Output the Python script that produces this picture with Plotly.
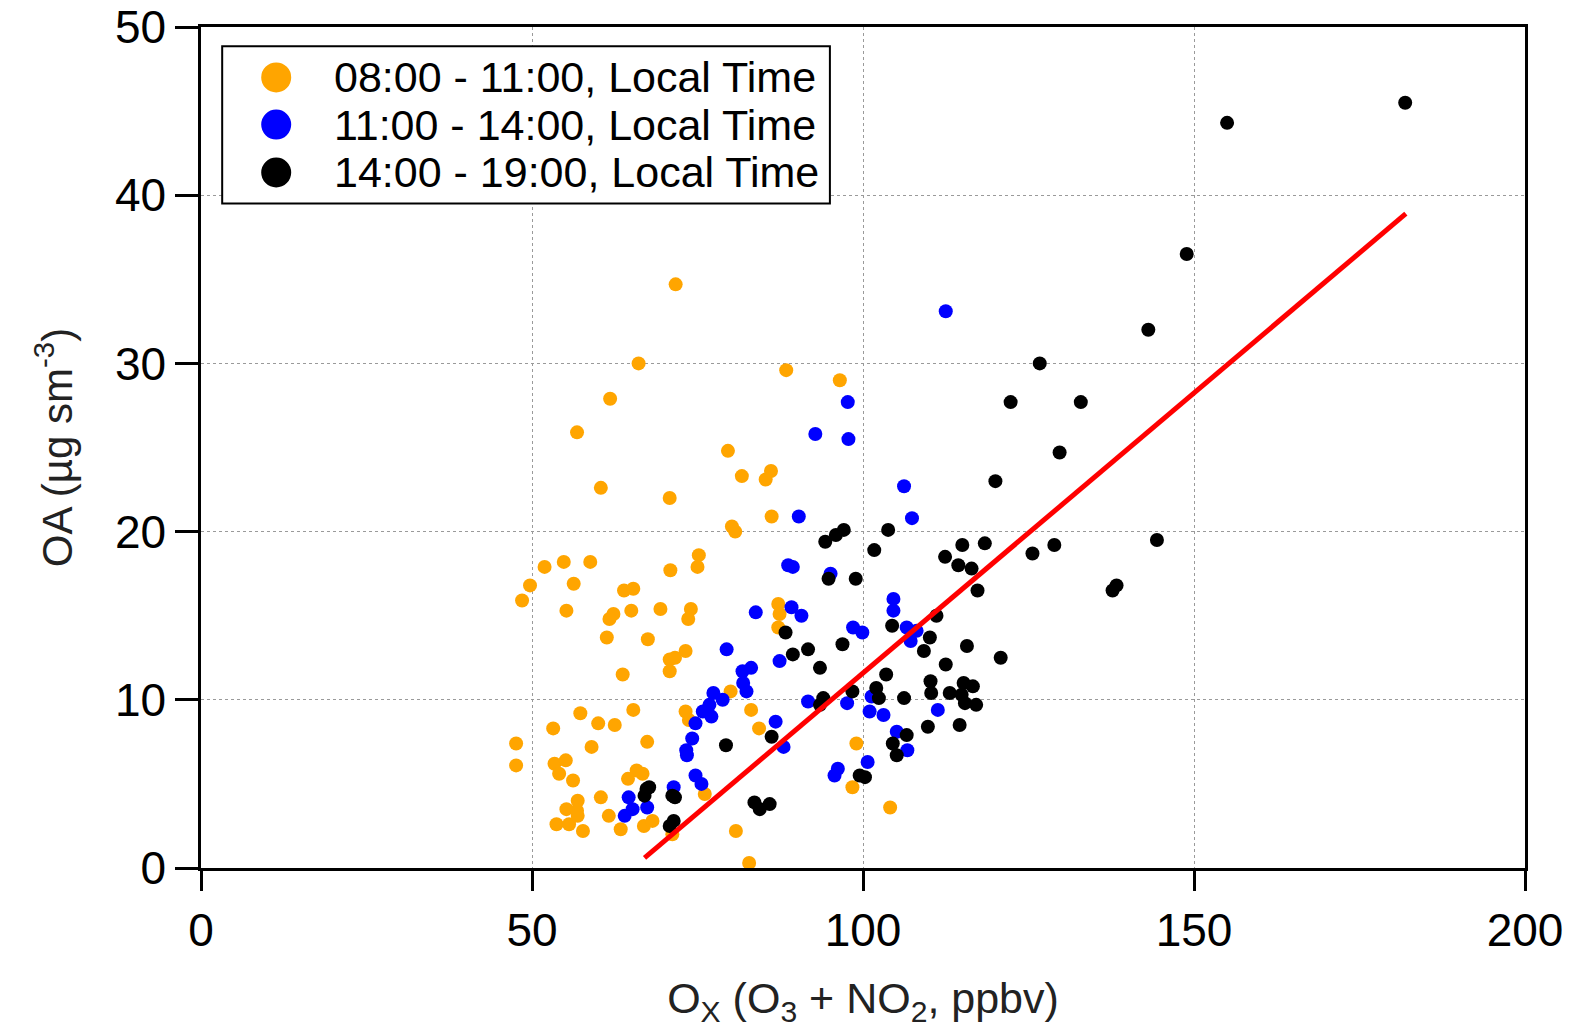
import plotly.graph_objects as go

# ---- data ----
morning_x = [71.7, 66.1, 61.8, 56.8, 60.4, 70.8, 79.6, 81.7, 86.1, 85.3, 86.2, 80.2, 80.7, 75.2, 88.4, 96.5,
             51.9, 54.8, 58.8, 49.7, 48.5, 56.3, 55.2, 70.9, 75.0, 63.9, 65.3, 62.3, 61.7, 65.0, 69.4, 74.0,
             73.6, 61.3, 67.5, 73.2, 70.8, 71.6, 70.8, 63.7, 80.0, 65.3, 57.3, 60.0, 62.5, 53.2, 73.2, 73.7,
             83.1, 84.3, 87.2, 87.4, 87.2, 47.6, 47.6, 59.0, 67.4, 53.4, 55.1, 54.1, 56.2, 65.8, 66.7, 64.5,
             60.4, 56.9, 55.2, 56.8, 53.7, 55.6, 57.7, 56.9, 61.6, 63.4, 66.9, 68.2, 71.2, 76.1, 80.8, 82.8,
             99.0, 98.4, 104.1]
morning_y = [34.7, 30.0, 27.9, 25.9, 22.6, 22.0, 24.8, 23.3, 23.6, 23.1, 20.9, 20.3, 20.0, 18.6, 29.6, 29.0,
             17.9, 18.2, 18.2, 16.8, 15.9, 16.9, 15.3, 17.7, 17.9, 16.5, 16.6, 15.1, 14.8, 15.3, 15.4, 15.4,
             14.8, 13.7, 13.6, 12.9, 12.4, 12.5, 11.7, 11.5, 10.5, 9.4, 9.2, 8.6, 8.5, 8.3, 9.3, 8.8,
             9.4, 8.3, 15.7, 15.1, 14.3, 7.4, 6.1, 7.2, 7.5, 6.2, 6.4, 5.6, 5.2, 5.8, 5.6, 5.3,
             4.2, 4.0, 3.5, 3.4, 2.6, 2.6, 2.2, 3.1, 3.1, 2.3, 2.5, 2.8, 2.0, 4.4, 2.2, 0.3,
             7.4, 4.8, 3.6]

midday_x = [112.5, 97.7, 92.8, 97.8, 106.2, 90.3, 107.4, 88.7, 89.4, 95.1, 89.2, 90.7, 83.8, 98.5, 99.9,
            87.4, 104.6, 104.6, 106.6, 108.1, 107.2, 101.3, 111.3, 91.7, 97.6, 101.0, 103.1, 86.8, 88.0,
            105.1, 106.7, 100.7, 96.2, 95.7, 79.4, 81.8, 83.1, 81.9, 82.4, 77.4, 78.8, 76.8, 75.8, 77.1,
            74.7, 74.2, 73.3, 73.4, 74.7, 75.6, 71.4, 64.6, 65.2, 64.0, 67.4]
midday_y = [33.1, 27.7, 25.8, 25.5, 22.7, 20.9, 20.8, 18.0, 17.9, 17.5, 15.5, 15.0, 15.2, 14.3, 14.0,
            12.3, 16.0, 15.3, 14.3, 14.1, 13.5, 10.2, 9.4, 9.9, 9.8, 9.3, 9.1, 8.7, 7.2,
            8.1, 7.0, 6.3, 5.9, 5.5, 13.0, 11.7, 11.9, 11.0, 10.5, 10.4, 10.0, 9.7, 9.3, 9.0,
            8.6, 7.7, 7.0, 6.7, 5.5, 5.0, 4.8, 4.2, 3.5, 3.1, 3.6]

afternoon_x = [181.9, 155.0, 148.9, 143.1, 126.7, 122.3, 132.9, 129.7, 120.0, 125.6, 128.9, 144.4, 137.7,
               138.3, 120.8, 97.1, 95.9, 94.3, 103.8, 101.7, 112.4, 115.0, 118.4, 114.4, 116.4, 94.8,
               98.9, 117.3, 88.3, 96.9, 91.7, 89.4, 93.5, 104.4, 111.1, 110.1, 109.2, 115.7, 112.5,
               103.5, 102.0, 102.4, 98.4, 106.2, 110.2, 110.3, 113.1, 115.2, 116.6, 114.9, 115.4, 117.1,
               109.8, 114.6, 94.0, 93.5, 86.2, 106.6, 104.5, 105.1, 99.5, 100.3, 85.9, 84.4, 83.6,
               67.3, 67.7, 67.0, 71.2, 71.6, 70.8, 71.4, 79.3]
afternoon_y = [45.5, 44.3, 36.5, 32.0, 30.0, 27.7, 27.7, 24.7, 23.0, 18.7, 19.2, 19.5, 16.5,
               16.8, 12.5, 20.1, 19.8, 19.4, 20.1, 18.9, 18.5, 19.2, 19.3, 18.0, 17.8, 17.2,
               17.2, 16.5, 14.0, 13.3, 13.0, 12.7, 11.9, 14.4, 15.0, 13.7, 12.9, 13.2, 12.1,
               11.5, 10.7, 10.1, 10.5, 10.1, 11.1, 10.4, 10.4, 11.0, 10.8, 10.3, 9.8, 9.7,
               8.4, 8.5, 10.1, 9.7, 7.8, 7.9, 7.4, 6.7, 5.5, 5.4, 3.8, 3.5, 3.9,
               4.7, 4.8, 4.3, 4.3, 4.2, 2.5, 2.8, 7.3]

fit_x = [67.0, 182.0]
fit_y = [0.6, 38.9]

series_names = ["08:00 - 11:00, Local Time", "11:00 - 14:00, Local Time", "14:00 - 19:00, Local Time"]
series_colors = ["#FFA500", "#0000FF", "#000000"]

x_ticks = [0, 50, 100, 150, 200]
y_ticks = [0, 10, 20, 30, 40, 50]

FONT = "Arial, 'Liberation Sans', sans-serif"

fig = go.Figure()
for xs, ys, name, col in zip([morning_x, midday_x, afternoon_x],
                             [morning_y, midday_y, afternoon_y],
                             series_names, series_colors):
    fig.add_trace(go.Scatter(x=xs, y=ys, mode="markers", name=name,
                             marker=dict(color=col, size=14, line=dict(width=0)),
                             showlegend=False))

fig.add_trace(go.Scatter(x=fit_x, y=fit_y, mode="lines", name="fit",
                         line=dict(color="#FF0000", width=5), showlegend=False))

# custom legend (large symbols like the reference)
shapes = [dict(type="rect", xref="paper", yref="paper", x0=0.016, x1=0.475, y0=0.790, y1=0.977,
               line=dict(color="black", width=2), fillcolor="white", layer="above")]
annotations = []
legend_y = [0.940, 0.884, 0.827]
for name, col, ly in zip(series_names, series_colors, legend_y):
    shapes.append(dict(type="circle", xref="paper", yref="paper", xsizemode="pixel", ysizemode="pixel",
                       xanchor=0.0568, yanchor=ly, x0=-15, x1=15, y0=-15, y1=15,
                       fillcolor=col, line=dict(width=0), layer="above"))
    annotations.append(dict(xref="paper", yref="paper", x=0.099, y=ly, xanchor="left", yanchor="middle",
                            text=name, showarrow=False, font=dict(size=43, color="black", family=FONT)))

fig.update_layout(
    width=1572, height=1028,
    margin=dict(l=201, r=47, t=27, b=160, autoexpand=False),
    paper_bgcolor="white", plot_bgcolor="white",
    font=dict(family=FONT, color="black"),
    shapes=shapes, annotations=annotations,
)

axis_common = dict(showline=True, linecolor="black", linewidth=2.5, mirror=True,
                   ticks="outside", tickcolor="black", tickwidth=2.5, automargin=False,
                   showgrid=True, gridcolor="#9a9a9a", griddash="dot", gridwidth=1,
                   zeroline=False, tickfont=dict(size=46, color="black", family=FONT))

fig.update_xaxes(range=[0, 200], tickvals=x_ticks, ticklen=20, **axis_common,
                 title=dict(text="O<sub>X</sub> (O<sub>3</sub> + NO<sub>2</sub>, ppbv)",
                            font=dict(size=43, color="#222", family=FONT), standoff=30))
fig.update_yaxes(range=[0, 50], tickvals=y_ticks, ticklen=23, **axis_common,
                 title=dict(text="OA (µg sm<sup>-3</sup>)",
                            font=dict(size=42, color="#222", family=FONT), standoff=30))

fig.write_html("out.html")
